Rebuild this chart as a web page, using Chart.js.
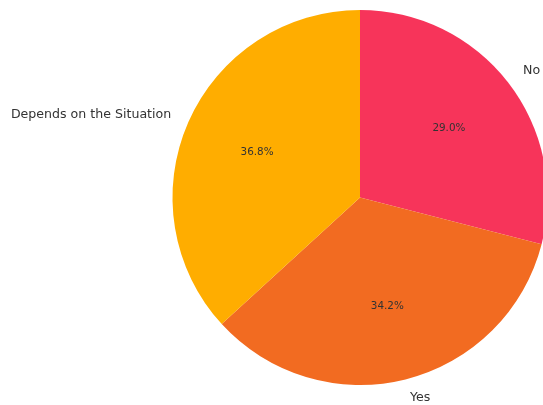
<!DOCTYPE html>
<html>
<head>
<meta charset="utf-8">
<script src="https://cdn.jsdelivr.net/npm/chart.js@4.4.0/dist/chart.umd.min.js"></script>
<style>
  html, body { margin: 0; padding: 0; background: #fff; overflow: hidden; }
  #wrap { width: 543px; height: 405px; overflow: hidden; position: relative; }
  canvas { display: block; }
</style>
</head>
<body>
<div id="wrap"><canvas id="chart" width="720" height="405"></canvas></div>
<script>
const labels = ['No', 'Yes', 'Depends on the Situation'];
const percents = [29.0, 34.2, 36.8];
const colors = ['#F7345A', '#F26B21', '#FFAD00'];

// matplotlib-like labels: name outside at 1.1r, percentage inside at 0.6r
const pieLabels = {
    id: 'pieLabels',
    afterDatasetsDraw(chart) {
        const ctx = chart.ctx;
        const meta = chart.getDatasetMeta(0);
        ctx.save();
        meta.data.forEach((arc, i) => {
            const p = arc.getProps(['x', 'y', 'startAngle', 'endAngle', 'outerRadius'], true);
            const mid = (p.startAngle + p.endAngle) / 2;
            const cos = Math.cos(mid), sin = Math.sin(mid);

            ctx.textBaseline = 'middle';
            ctx.fillStyle = '#333333';
            ctx.font = '10.4px "DejaVu Sans"';
            ctx.textAlign = 'center';
            ctx.fillText(percents[i].toFixed(1) + '%', p.x + cos * p.outerRadius * 0.6, p.y + sin * p.outerRadius * 0.6);

            ctx.font = '12.6px "DejaVu Sans"';
            ctx.textAlign = cos >= 0 ? 'left' : 'right';
            ctx.fillText(labels[i], p.x + cos * p.outerRadius * 1.1, p.y + sin * p.outerRadius * 1.1);
        });
        ctx.restore();
    }
};

new Chart(document.getElementById('chart'), {
    type: 'pie',
    data: {
        labels: labels,
        datasets: [{
            data: percents,
            backgroundColor: colors,
            borderWidth: 0
        }]
    },
    options: {
        responsive: false,
        animation: false,
        layout: { padding: { top: 10, bottom: 20, left: 0, right: 0 } },
        plugins: {
            legend: { display: false },
            tooltip: { enabled: false }
        }
    },
    plugins: [pieLabels]
});
</script>
</body>
</html>
